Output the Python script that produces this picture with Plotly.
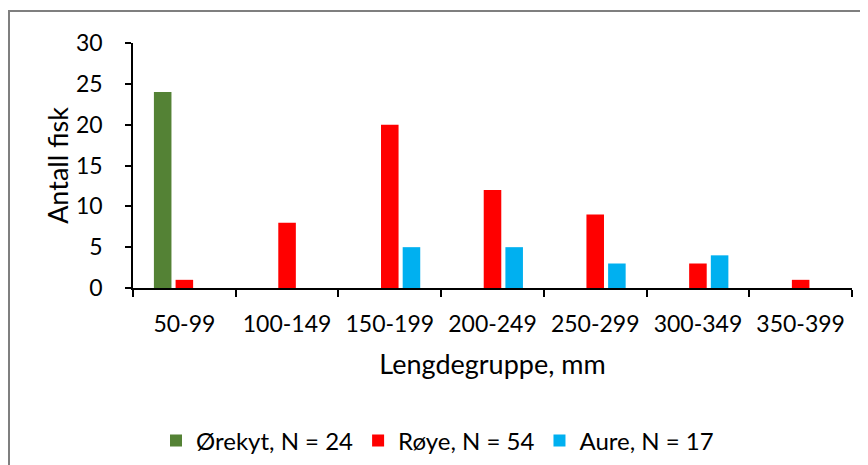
import plotly.graph_objects as go

categories = ["50-99", "100-149", "150-199", "200-249", "250-299", "300-349", "350-399"]
orekyt = [24, 0, 0, 0, 0, 0, 0]
roye = [1, 8, 20, 12, 9, 3, 1]
aure = [0, 0, 5, 5, 3, 4, 0]
series_names = ["Ørekyt, N = 24", "Røye, N = 54", "Aure, N = 17"]
colors = ["#548235", "#FF0000", "#00B0F0"]

FONT = "Lato"
TICK_FS = 23
TITLE_FS = 27
LEG_FS = 24

# page has an 8px body margin, so the figure is offset by 8px; the figure is
# made a little larger than the visible window so the legend has room.
W, H = 880, 490
L, T = 125, 35
x_axis_y = 280
x_axis_right = 844
R, B = W - x_axis_right, H - x_axis_y
pw, ph = W - L - R, H - T - B

fig = go.Figure()
for name, vals, col in zip(series_names, [orekyt, roye, aure], colors):
    fig.add_trace(go.Bar(x=categories, y=vals, name=name, marker_color=col,
                         marker_line_width=0))

fig.update_layout(
    width=W, height=H,
    margin=dict(l=L, r=R, t=T, b=B, pad=0),
    paper_bgcolor="white", plot_bgcolor="white",
    barmode="group", bargap=0.367, bargroupgap=0.19,
    font=dict(family=FONT, size=TICK_FS, color="#000"),
    showlegend=True,
    legend=dict(orientation="h", x=(148 - L) / pw, xanchor="left",
                y=(x_axis_y - 433) / ph, yanchor="middle",
                font=dict(family=FONT, size=LEG_FS, color="#000"),
                bgcolor="rgba(0,0,0,0)", itemclick=False),
    xaxis=dict(showline=True, linecolor="#000", linewidth=1.5,
               ticks="outside", ticklen=7, tickwidth=1.5, tickcolor="#000",
               tickson="boundaries", showgrid=False, zeroline=False,
               automargin=False, ticklabelstandoff=15, tickangle=0,
               tickfont=dict(family=FONT, size=TICK_FS),
               title=dict(text="Lengdegruppe, mm", standoff=19,
                          font=dict(family=FONT, size=TITLE_FS))),
    yaxis=dict(range=[0, 30], dtick=5, showline=True, linecolor="#000",
               linewidth=1.5, ticks="outside", ticklen=6, tickwidth=1.5,
               tickcolor="#000", showgrid=False, zeroline=False,
               automargin=False, ticklabelstandoff=18,
               tickfont=dict(family=FONT, size=TICK_FS),
               title=dict(text="Antall fisk", standoff=0,
                          font=dict(family=FONT, size=TITLE_FS))),
    shapes=[dict(type="rect", xref="paper", yref="paper",
                 x0=(1 - L) / pw, x1=(W + 10 - L) / pw,
                 y0=(x_axis_y - H - 10) / ph, y1=(x_axis_y - 3) / ph,
                 line=dict(color="#7f7f7f", width=2), fillcolor="rgba(0,0,0,0)",
                 layer="below")],
)

fig.write_html("out.html")
